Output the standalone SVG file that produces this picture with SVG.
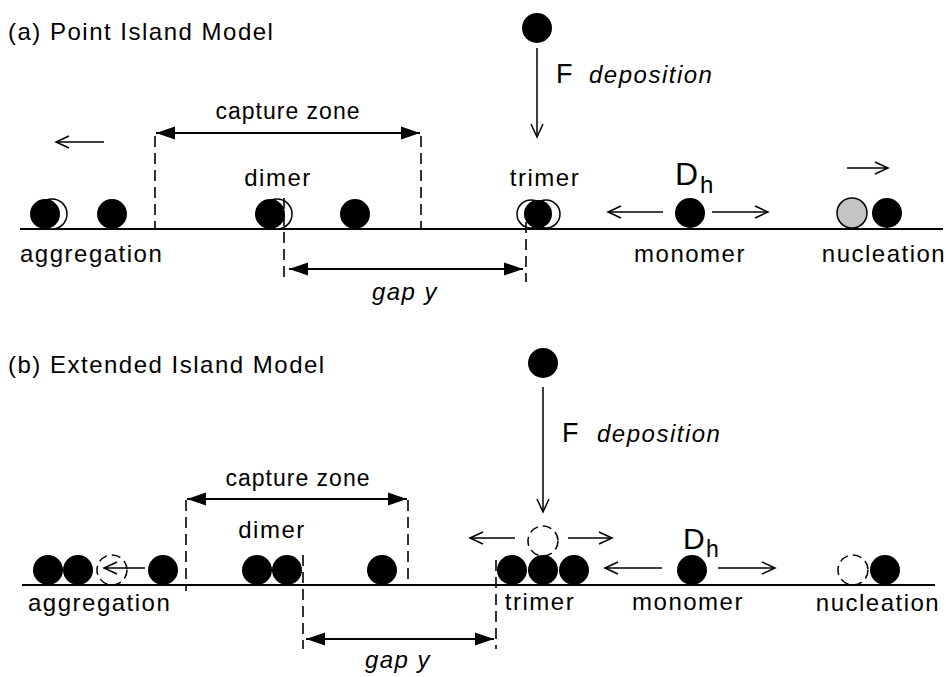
<svg xmlns="http://www.w3.org/2000/svg" width="946" height="677" viewBox="0 0 946 677">
  <style>
    text { font-family: "Liberation Sans", Arial, Helvetica, sans-serif; fill: #000; }
    .lbl { font-size: 24px; letter-spacing: 1.5px; }
    .cz { font-size: 23px; letter-spacing: 1px; }
    .it { font-size: 24px; font-style: italic; letter-spacing: 1.5px; }
    .big { font-size: 27px; }
    .surface { stroke: #000; stroke-width: 2; fill: none; }
    .dash { stroke: #000; stroke-width: 1.6; stroke-dasharray: 11 6; fill: none; }
    .solid { fill: #000; }
    .ghost { fill: #fff; stroke: #000; stroke-width: 1.5; }
    .grey { fill: #c4c4c4; stroke: #000; stroke-width: 1.5; }
    .dashed-atom { fill: none; stroke: #000; stroke-width: 1.5; stroke-dasharray: 9 5; }
    .open { stroke: #000; stroke-width: 1.5; fill: none; marker-end: url(#chevron); }
    .dim { stroke: #000; stroke-width: 1.8; fill: none; marker-start: url(#tri-start); marker-end: url(#tri-end); }
  </style>
  <defs>
    <marker id="chevron" markerUnits="userSpaceOnUse" viewBox="-15 -8 17 16" markerWidth="17" markerHeight="16" refX="0" refY="0" orient="auto">
      <path d="M-13,-6 L0,0 L-13,6" fill="none" stroke="#000" stroke-width="1.5"/>
    </marker>
    <marker id="tri-end" markerUnits="userSpaceOnUse" viewBox="-20 -8 21 16" markerWidth="21" markerHeight="16" refX="0" refY="0" orient="auto">
      <path d="M-19,-6.5 L0,0 L-19,6.5 z" fill="#000"/>
    </marker>
    <marker id="tri-start" markerUnits="userSpaceOnUse" viewBox="-1 -8 21 16" markerWidth="21" markerHeight="16" refX="0" refY="0" orient="auto">
      <path d="M19,-6.5 L0,0 L19,6.5 z" fill="#000"/>
    </marker>
  </defs>

  <!-- ===== (a) Point Island Model ===== -->
  <g id="a-title"><text class="lbl" x="8" y="40">(a) Point Island Model</text></g>
  <line class="surface" x1="20" y1="229" x2="943" y2="229"/>

  <g id="a-aggregation">
    <circle class="ghost" cx="52" cy="214" r="15"/>
    <circle class="solid" cx="45" cy="214" r="15"/>
    <circle class="solid" cx="112" cy="214" r="15"/>
    <text class="lbl" x="20" y="262">aggregation</text>
  </g>

  <g id="a-dimer">
    <circle class="ghost" cx="277" cy="214" r="15"/>
    <circle class="solid" cx="270" cy="214" r="15"/>
    <text class="lbl" x="278" y="186" text-anchor="middle">dimer</text>
  </g>

  <g id="a-adatom"><circle class="solid" cx="355" cy="214" r="15"/></g>

  <g id="a-trimer">
    <circle class="ghost" cx="531" cy="214" r="14"/>
    <circle class="ghost" cx="546" cy="214" r="14"/>
    <circle class="solid" cx="538" cy="214" r="14"/>
    <text class="lbl" x="545" y="186" text-anchor="middle">trimer</text>
  </g>

  <g id="a-deposition">
    <circle class="solid" cx="537" cy="28" r="15"/>
    <text class="big" x="556" y="83">F</text>
    <text class="it" x="589" y="83">deposition</text>
  </g>

  <g id="a-monomer">
    <circle class="solid" cx="690" cy="213" r="15"/>
    <text x="675" y="185" style="font-size:32px">D</text>
    <text x="700" y="193" style="font-size:24px">h</text>
    <text class="lbl" x="690" y="262" text-anchor="middle">monomer</text>
  </g>

  <g id="a-nucleation">
    <circle class="grey" cx="852" cy="213" r="15"/>
    <circle class="solid" cx="887" cy="213" r="15"/>
    <text class="lbl" x="884" y="262" text-anchor="middle">nucleation</text>
  </g>

  <g id="a-capture-label"><text class="cz" x="288" y="119" text-anchor="middle">capture zone</text></g>
  <g id="a-gap-label"><text class="it" x="405" y="300" text-anchor="middle">gap y</text></g>

  <!-- ===== (b) Extended Island Model ===== -->
  <g id="b-title"><text class="lbl" x="8" y="373">(b) Extended Island Model</text></g>
  <line class="surface" x1="22" y1="585" x2="935" y2="585"/>

  <g id="b-aggregation">
    <circle class="solid" cx="48" cy="570" r="15"/>
    <circle class="solid" cx="78" cy="570" r="15"/>
    <circle class="dashed-atom" cx="112" cy="570" r="15"/>
    <circle class="solid" cx="163" cy="570" r="15"/>
    <text class="lbl" x="28" y="611">aggregation</text>
  </g>

  <g id="b-dimer">
    <circle class="solid" cx="257" cy="570" r="15"/>
    <circle class="solid" cx="287" cy="570" r="15"/>
    <text class="lbl" x="272" y="538" text-anchor="middle">dimer</text>
  </g>

  <g id="b-adatom"><circle class="solid" cx="382" cy="570" r="15"/></g>

  <g id="b-trimer">
    <circle class="solid" cx="512" cy="570" r="15"/>
    <circle class="solid" cx="543" cy="570" r="15"/>
    <circle class="solid" cx="574" cy="570" r="15"/>
    <circle class="dashed-atom" cx="543" cy="541" r="15"/>
    <text class="lbl" x="540" y="610" text-anchor="middle">trimer</text>
  </g>

  <g id="b-deposition">
    <circle class="solid" cx="543" cy="363" r="15"/>
    <text class="big" x="562" y="442">F</text>
    <text class="it" x="597" y="442">deposition</text>
  </g>

  <g id="b-monomer">
    <circle class="solid" cx="692" cy="570" r="15"/>
    <text x="683" y="549" style="font-size:30px">D</text>
    <text x="706" y="557" style="font-size:23px">h</text>
    <text class="lbl" x="688" y="610" text-anchor="middle">monomer</text>
  </g>

  <g id="b-nucleation">
    <circle class="dashed-atom" cx="853" cy="570" r="15"/>
    <circle class="solid" cx="885" cy="570" r="15"/>
    <text class="lbl" x="878" y="611" text-anchor="middle">nucleation</text>
  </g>

  <g id="b-capture-label"><text class="cz" x="298" y="486" text-anchor="middle">capture zone</text></g>
  <g id="b-gap-label"><text class="it" x="398" y="668" text-anchor="middle">gap y</text></g>

  <!-- ===== connectors ===== -->
  <g id="connectors">
    <!-- (a) motion arrows -->
    <line class="open" x1="104" y1="142" x2="56" y2="142"/>
    <line class="open" x1="537" y1="48" x2="537" y2="137"/>
    <line class="open" x1="663" y1="212" x2="608" y2="212"/>
    <line class="open" x1="712" y1="212" x2="768" y2="212"/>
    <line class="open" x1="847" y1="168" x2="888" y2="168"/>
    <!-- (a) capture zone and gap -->
    <line class="dash" x1="155" y1="136" x2="155" y2="229"/>
    <line class="dash" x1="421" y1="136" x2="421" y2="229"/>
    <line class="dim" x1="156" y1="133" x2="420" y2="133"/>
    <line class="dash" x1="284" y1="198" x2="284" y2="282"/>
    <line class="dash" x1="526" y1="222" x2="526" y2="282"/>
    <line class="dim" x1="289" y1="269" x2="523" y2="269"/>

    <!-- (b) motion arrows -->
    <line class="open" x1="145" y1="568" x2="104" y2="568"/>
    <line class="open" x1="543" y1="387" x2="543" y2="512"/>
    <line class="open" x1="515" y1="538" x2="470" y2="538"/>
    <line class="open" x1="568" y1="538" x2="612" y2="538"/>
    <line class="open" x1="662" y1="568" x2="605" y2="568"/>
    <line class="open" x1="718" y1="568" x2="775" y2="568"/>
    <!-- (b) capture zone and gap -->
    <line class="dash" x1="186" y1="500" x2="186" y2="591"/>
    <line class="dash" x1="408" y1="500" x2="408" y2="585"/>
    <line class="dim" x1="187" y1="499" x2="407" y2="499"/>
    <line class="dash" x1="303" y1="555" x2="303" y2="649"/>
    <line class="dash" x1="496" y1="560" x2="496" y2="649"/>
    <line class="dim" x1="306" y1="639" x2="494" y2="639"/>
  </g>
</svg>
